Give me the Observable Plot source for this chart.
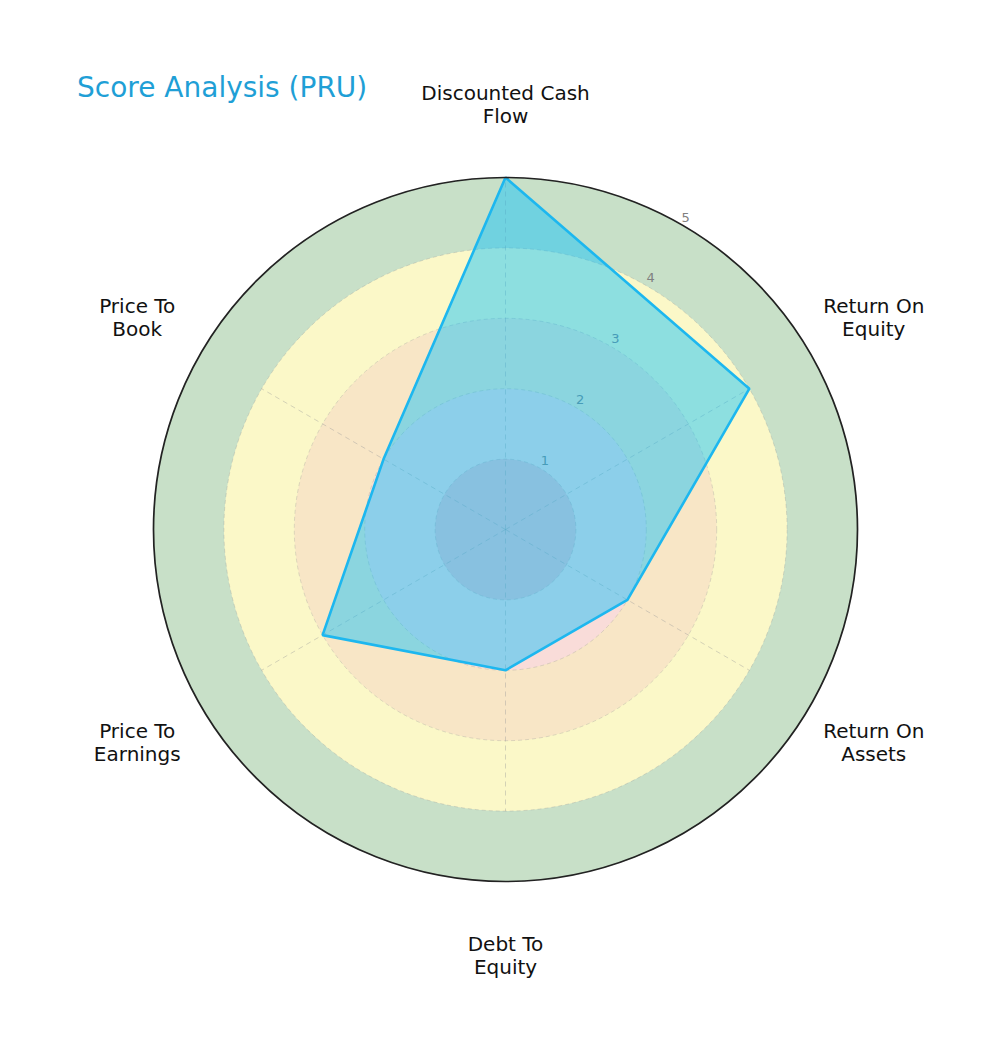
<!DOCTYPE html>
<html>
<head>
<meta charset="utf-8">
<script src="https://cdn.jsdelivr.net/npm/d3@7"></script>
<script src="https://cdn.jsdelivr.net/npm/@observablehq/plot@0.6"></script>
<style>
  html, body { margin: 0; padding: 0; background: #ffffff; }
  #wrap { position: relative; width: 1000px; height: 1051px; font-family: "DejaVu Sans", sans-serif; }
  #title { position: absolute; left: 77px; top: 74px; font-size: 28px; line-height: 28px; color: #1f9fd6; white-space: nowrap; }
  #chart { position: absolute; left: 0; top: 0; }
</style>
</head>
<body>
<div id="wrap">
  <div id="chart"></div>
  <div id="title">Score Analysis (PRU)</div>
</div>
<script>
// ---- data ----
const categories = ["Discounted Cash\nFlow", "Return On\nEquity", "Return On\nAssets", "Debt To\nEquity", "Price To\nEarnings", "Price To\nBook"];
const scores = [5, 4, 2, 2, 3, 2];
const ringTicks = [1, 2, 3, 4, 5];
const bandOuter = [5, 4, 3, 2, 1];
const bandColors = ["#c8e0c8", "#fbf8c8", "#f8e6c6", "#f9dcd9", "#f2c2c8"];

// ---- geometry helpers (polar -> cartesian in score units) ----
const n = categories.length;
const ang = i => (i * 2 * Math.PI) / n; // clockwise from top
const px = (r, a) => r * Math.sin(a);
const py = (r, a) => r * Math.cos(a);

const S = 70.4;      // pixels per score unit
const cx = 505, cy = 529, W = 1000, H = 1051;

const axesData = categories.map((c, i) => ({ label: c, i, score: scores[i] }));
const bands = bandOuter.map((r, k) => ({ r, color: bandColors[k] }));
const rings = ringTicks.map(v => ({ v }));
const tickAngle = Math.PI / 6;

const chart = Plot.plot({
  width: W,
  height: H,
  margin: 0,
  x: { domain: [-cx / S, (W - cx) / S], range: [0, W], axis: null },
  y: { domain: [-(H - cy) / S, cy / S], range: [H, 0], axis: null },
  r: { type: "linear", domain: [0, 5], range: [0, 5 * S] },
  style: { background: "transparent", fontFamily: "DejaVu Sans, sans-serif" },
  marks: [
    // colored score bands
    Plot.dot(bands, { x: () => 0, y: () => 0, r: "r", fill: d => d.color, stroke: "none" }),
    // ring gridlines
    Plot.dot(rings, { x: () => 0, y: () => 0, r: "v", fill: "none", stroke: "#999999", strokeOpacity: 0.4, strokeWidth: 0.8, strokeDasharray: "4,3" }),
    // spokes (faint through the outer green band except under the polygon)
    Plot.link(axesData, {
      x1: () => 0, y1: () => 0,
      x2: d => px(Math.max(4, d.score), ang(d.i)), y2: d => py(Math.max(4, d.score), ang(d.i)),
      stroke: "#999999", strokeOpacity: 0.5, strokeWidth: 0.8, strokeDasharray: "5,4"
    }),
    // radial tick labels
    Plot.text(rings, {
      x: d => px(d.v + 0.12, tickAngle), y: d => py(d.v + 0.12, tickAngle),
      text: d => String(d.v), fill: "#808080", fontSize: 13, textAnchor: "middle"
    }),
    // score polygon
    Plot.line(axesData, {
      x: d => px(d.score, ang(d.i)), y: d => py(d.score, ang(d.i)),
      curve: "linear-closed",
      fill: "#00bfff", fillOpacity: 0.44,
      stroke: "#1db7ef", strokeWidth: 2.6, strokeLinejoin: "miter"
    }),
    // outer circle
    Plot.dot([{ r: 5 }], { x: () => 0, y: () => 0, r: "r", fill: "none", stroke: "#222222", strokeWidth: 1.7 }),
    // category labels
    Plot.text(axesData, {
      x: d => px(6.04, ang(d.i)), y: d => py(6.04, ang(d.i)),
      text: "label", fontSize: 20, fill: "#111111", textAnchor: "middle", lineHeight: 1.15
    })
  ]
});
document.getElementById("chart").appendChild(chart);
</script>
</body>
</html>
